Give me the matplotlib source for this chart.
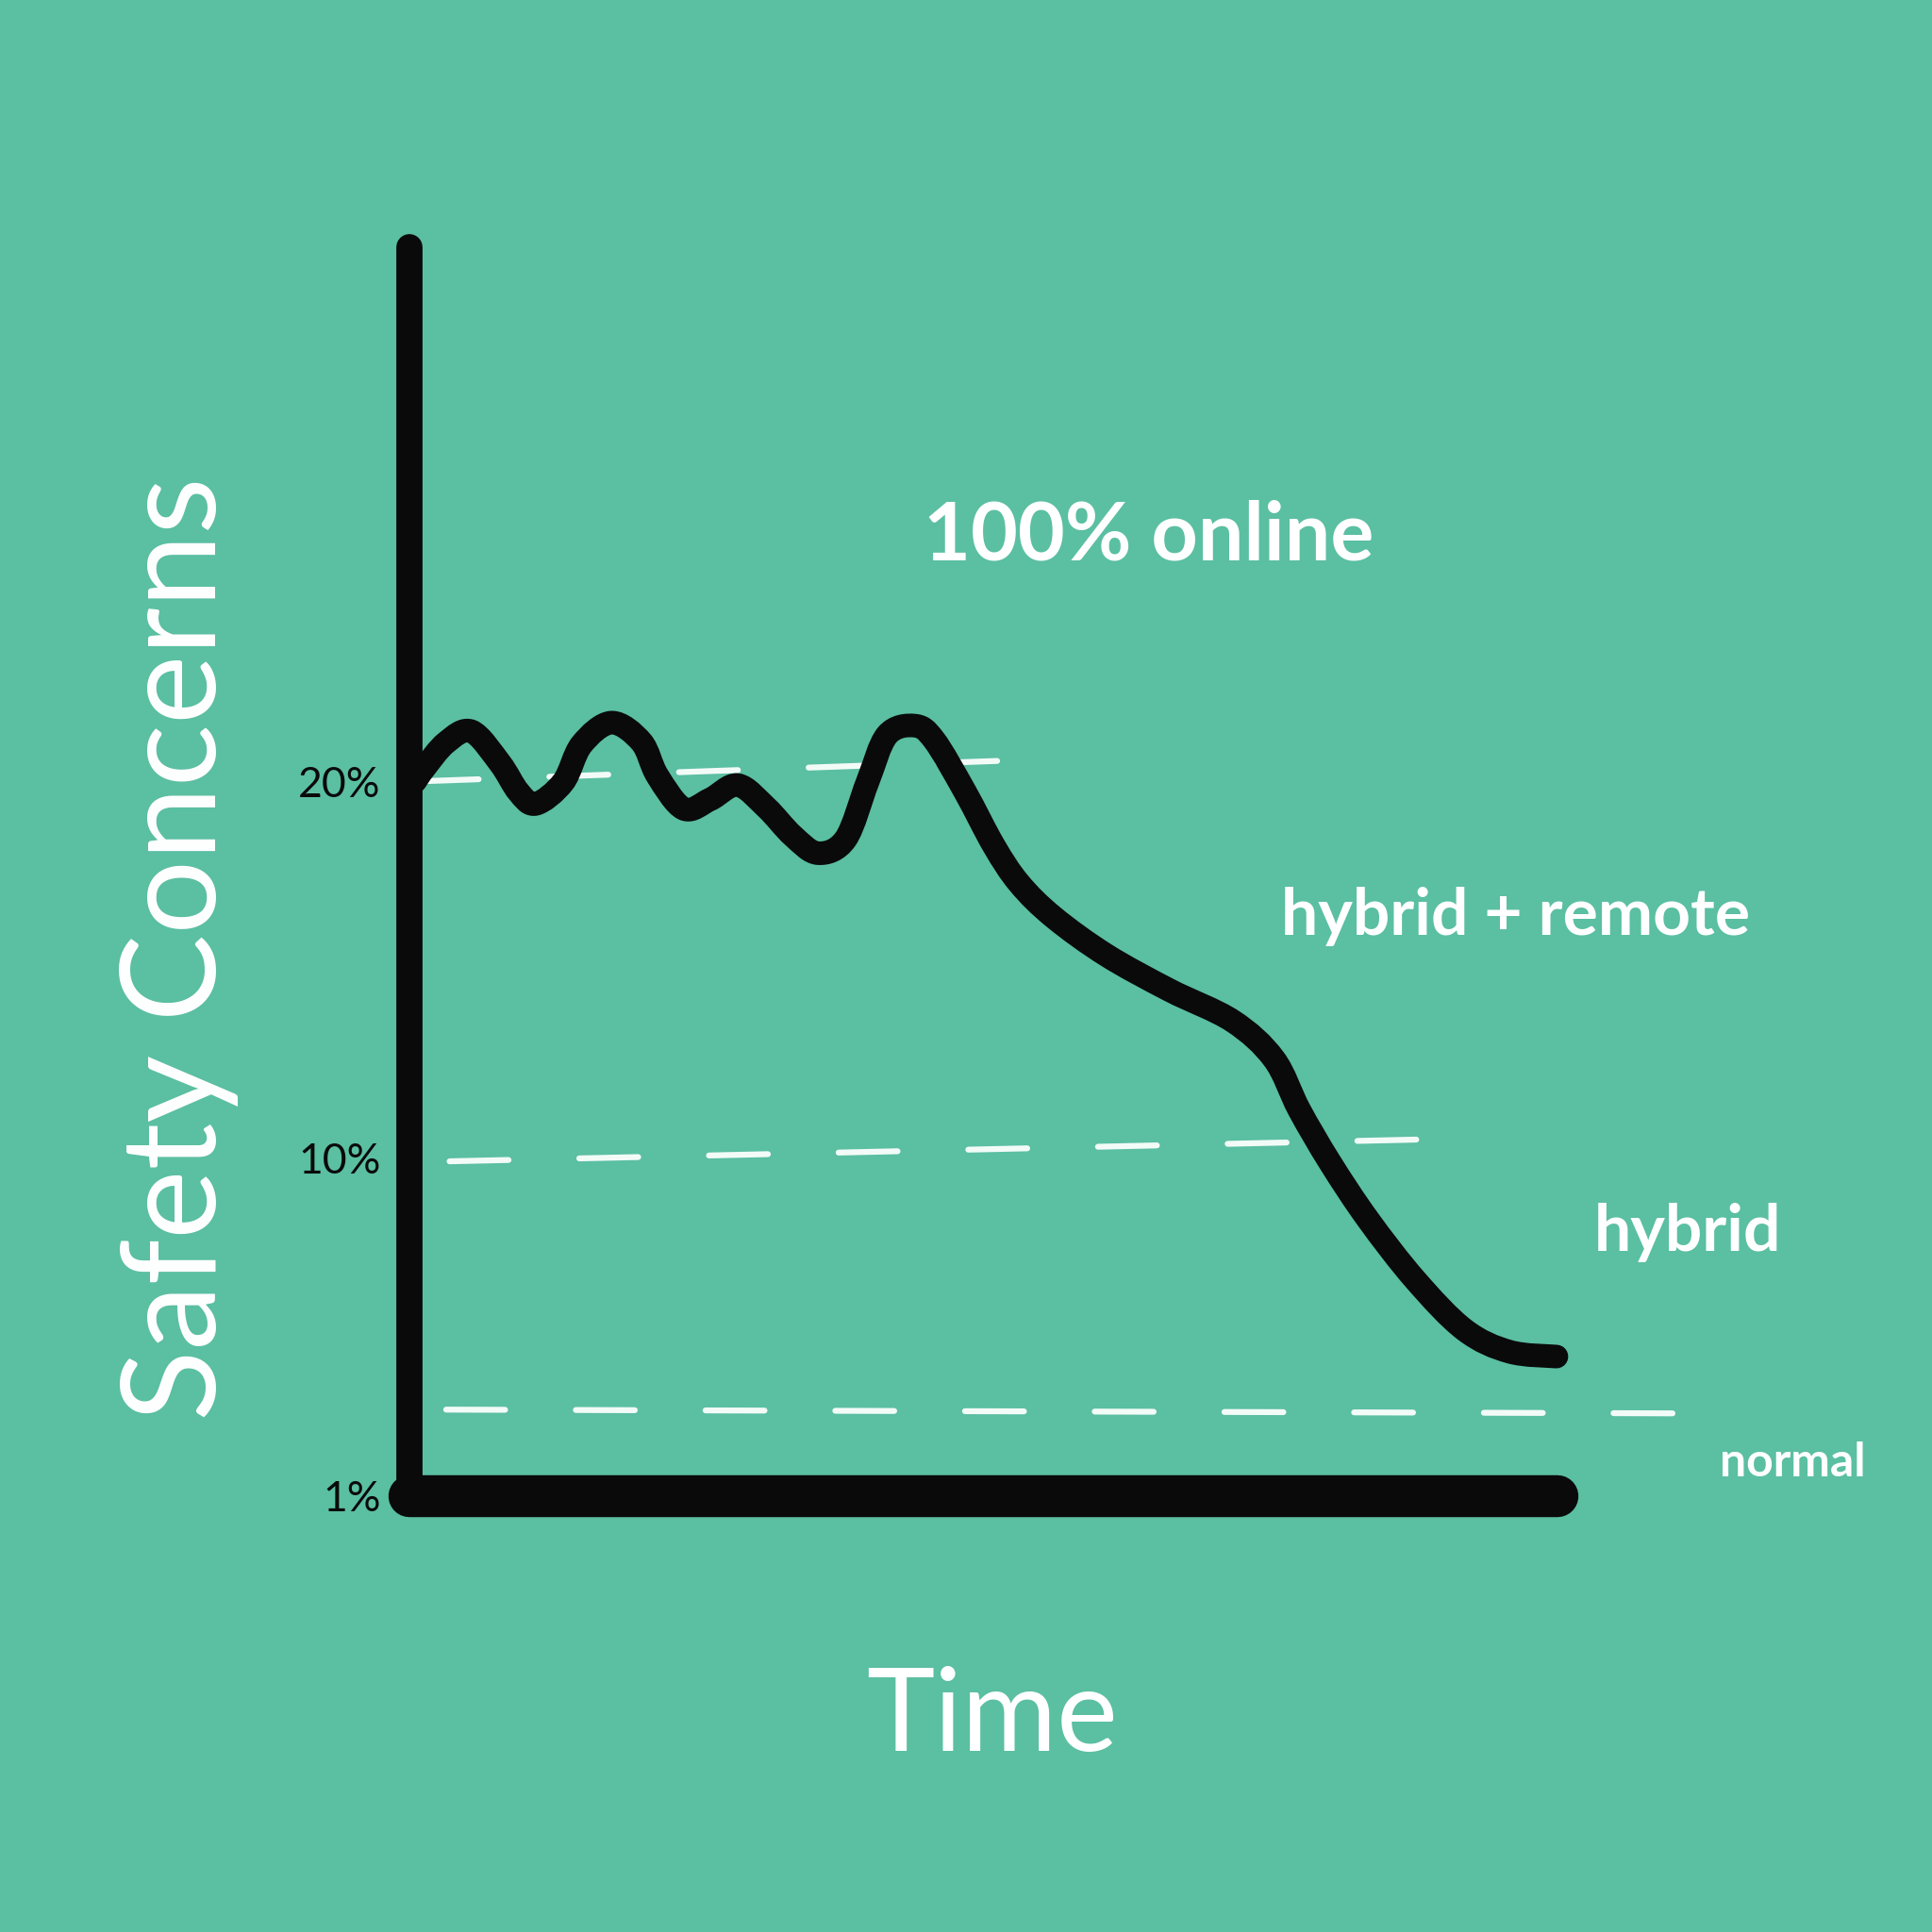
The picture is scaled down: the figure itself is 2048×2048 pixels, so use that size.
import matplotlib
matplotlib.use("Agg")
import matplotlib.pyplot as plt
import numpy as np
from matplotlib.path import Path
from matplotlib.patches import PathPatch

# ---------------- data ----------------
time = [0.5, 1.3, 3.2, 5.4, 7.9, 9.5, 11.0, 13.4, 15.0, 17.6, 20.2, 21.6, 23.9,
        26.2, 28.6, 31.1, 33.4, 35.6, 38.0, 39.9, 41.6, 44.0, 45.7, 48.4, 50.9,
        53.1, 56.1, 60.7, 66.2, 71.7, 75.3, 77.5, 80.2, 83.5, 87.6, 91.9, 95.8, 99.9]
concern = [20.0, 20.35, 21.03, 21.33, 20.48, 19.72, 19.40, 19.98, 20.98, 21.56,
           21.05, 20.15, 19.27, 19.52, 19.90, 19.30, 18.55, 18.09, 18.47, 19.98,
           21.23, 21.48, 21.10, 19.72, 18.29, 17.29, 16.39, 15.38, 14.45, 13.63,
           12.62, 11.27, 9.86, 8.35, 6.75, 5.42, 4.84, 4.71]

tick_values = [1, 10, 20]
tick_labels = ["1%", "10%", "20%"]

# hand-drawn guide levels (start / end of each dashed line)
guide_t_start = [0.9, 3.5, 3.2]
guide_t_end = [56.6, 91.0, 110.8]
guide_v_start = [20.0, 9.9, 3.3]
guide_v_end = [20.6, 10.5, 3.2]

zone_labels = ["100% online", "hybrid + remote", "hybrid", "normal"]

# ---------------- style ----------------
BG = "#5BBFA2"
WHITE = "#FFFFFF"
INK = "#0A0A0A"

fig = plt.figure(figsize=(20.48, 20.48), dpi=100, facecolor=BG)
ax = fig.add_axes([0.2119, 0.2256, 0.5943, 0.6465])
ax.set_facecolor("none")

for side in ("top", "right"):
    ax.spines[side].set_visible(False)
ax.spines["left"].set_linewidth(20)
ax.spines["bottom"].set_linewidth(32)
for side in ("left", "bottom"):
    ax.spines[side].set_color(INK)
    ax.spines[side].set_capstyle("round")
    ax.spines[side].set_zorder(5)

# dashed guide lines
for ts, te, vs, ve in zip(guide_t_start, guide_t_end, guide_v_start, guide_v_end):
    ax.plot([ts, te], [vs, ve], color="#F2FBF7", lw=4.5,
            linestyle=(0, (10, 12)), dash_capstyle="round",
            clip_on=False, zorder=1)

# main curve: smooth Bezier path through the read points
P = np.column_stack([time, concern])
ext = np.vstack([P[0], P, P[-1]])
verts = [P[0]]
codes = [Path.MOVETO]
for i in range(len(P) - 1):
    p0, p1, p2, p3 = ext[i], ext[i + 1], ext[i + 2], ext[i + 3]
    c1 = p1 + (p2 - p0) / 6.0
    c2 = p2 - (p3 - p1) / 6.0
    verts += [c1, c2, p2]
    codes += [Path.CURVE4] * 3
curve = PathPatch(Path(verts, codes), facecolor="none", edgecolor=INK, lw=18,
                  capstyle="round", joinstyle="round", clip_on=False, zorder=3)
ax.add_patch(curve)

ax.set_xlim(0, 100)
ax.set_ylim(1, 34.2)

# ticks
ax.set_xticks([])
ax.set_yticks(tick_values)
ax.set_yticklabels(tick_labels, fontsize=32, family="Lato", fontweight="normal",
                   color=INK)
ax.tick_params(axis="y", length=0, pad=22)

# axis labels
ax.set_ylabel("Safety Concerns", fontsize=100, family="Lato", fontweight="normal",
              color=WHITE, va="center", ha="center")
ax.yaxis.set_label_coords(-0.201, 0.438)
ax.set_xlabel("Time", fontsize=88, family="Lato", fontweight="normal",
              color=WHITE, va="center", ha="center")
ax.xaxis.set_label_coords(0.507, -0.178)

# zone labels
label_pos = [(64.4, 26.5, 62), (96.3, 16.4, 50), (111.3, 8.0, 50), (120.5, 1.9, 36)]
for text, (tx, ty, fs) in zip(zone_labels, label_pos):
    ax.text(tx, ty, text, fontsize=fs, family="Lato", fontweight="bold",
            color=WHITE, ha="center", va="center", clip_on=False)

fig.savefig("out.png", dpi=100, facecolor=BG)
